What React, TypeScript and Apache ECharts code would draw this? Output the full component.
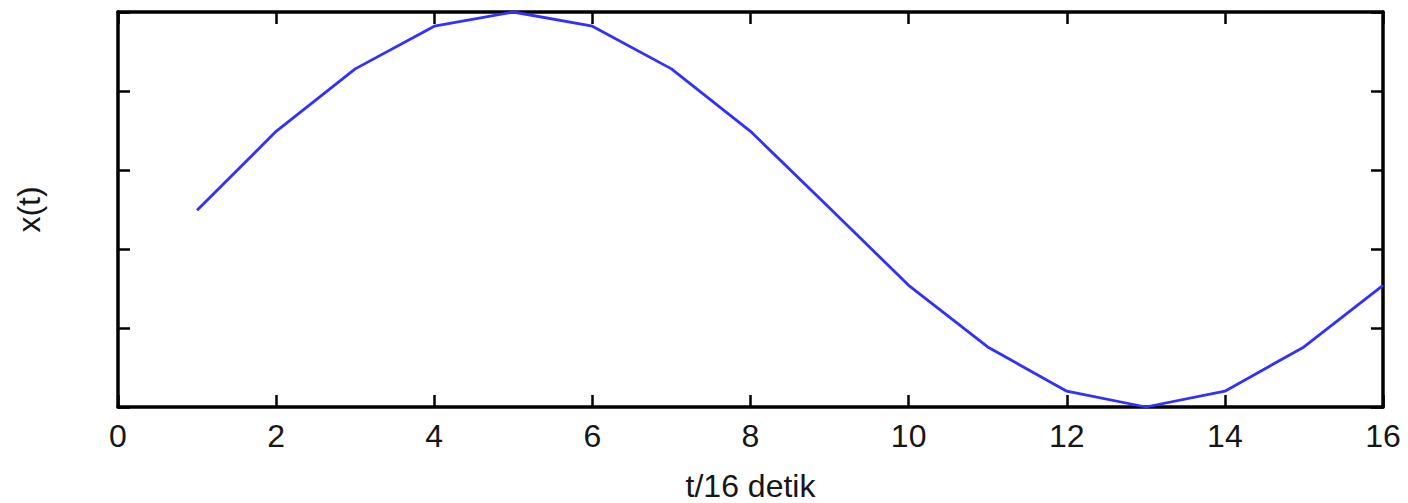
import React, { useEffect, useRef } from "react";
import * as echarts from "echarts";

const tValues = [1, 2, 3, 4, 5, 6, 7, 8, 9, 10, 11, 12, 13, 14, 15, 16];
const xValues = [2.49, 3.49, 4.28, 4.82, 5.0, 4.82, 4.28, 3.49, 2.52, 1.54, 0.76, 0.2, 0.0, 0.2, 0.76, 1.54];
const xTickMin = 0;
const xTickMax = 16;
const xTickStep = 2;
const yMin = 0;
const yMax = 5;
const yStep = 1;
const xAxisTitle = "t/16 detik";
const yAxisTitle = "x(t)";

const FONT = "Arial, 'Liberation Sans', sans-serif";
const TEXT = "#161616";

export default function App() {
  const ref = useRef<HTMLDivElement>(null);
  useEffect(() => {
    if (!ref.current) return;
    const chart = echarts.init(ref.current, undefined, { renderer: "svg" });
    const line = { lineStyle: { color: "#000", width: 3.5 } };
    const tick = { show: true, inside: true, length: 12, lineStyle: { color: "#000", width: 2.5 } };
    chart.setOption({
      animation: false,
      backgroundColor: "#fff",
      grid: { left: 118, right: 25, top: 12, bottom: 96, containLabel: false, outerBoundsMode: "none" },
      xAxis: [
        {
          type: "value",
          position: "bottom",
          min: xTickMin,
          max: xTickMax,
          interval: xTickStep,
          axisLine: { show: true, onZero: false, ...line },
          axisTick: tick,
          splitLine: { show: false },
          axisLabel: { color: TEXT, fontSize: 32, fontFamily: FONT, margin: 13 },
          name: xAxisTitle,
          nameLocation: "middle",
          nameGap: 63,
          nameTextStyle: { color: TEXT, fontSize: 32, lineHeight: 32, fontFamily: FONT },
        },
        {
          type: "value",
          position: "top",
          min: xTickMin,
          max: xTickMax,
          interval: xTickStep,
          axisLine: { show: true, onZero: false, ...line },
          axisTick: tick,
          splitLine: { show: false },
          axisLabel: { show: false },
        },
      ],
      yAxis: [
        {
          type: "value",
          position: "left",
          min: yMin,
          max: yMax,
          interval: yStep,
          axisLine: { show: true, onZero: false, ...line },
          axisTick: tick,
          splitLine: { show: false },
          axisLabel: { show: false },
          name: yAxisTitle,
          nameLocation: "middle",
          nameGap: 73,
          nameRotate: 90,
          nameTextStyle: { color: TEXT, fontSize: 32, fontFamily: FONT },
        },
        {
          type: "value",
          position: "right",
          min: yMin,
          max: yMax,
          interval: yStep,
          axisLine: { show: true, onZero: false, ...line },
          axisTick: tick,
          splitLine: { show: false },
          axisLabel: { show: false },
        },
      ],
      series: [
        {
          type: "line",
          xAxisIndex: 0,
          yAxisIndex: 0,
          data: tValues.map((t, i) => [t, xValues[i]]),
          showSymbol: false,
          symbol: "none",
          lineStyle: { color: "#3030ff", width: 2.8 },
          clip: false,
        },
      ],
    });
    return () => chart.dispose();
  }, []);
  return (
    <div
      ref={ref}
      style={{ position: "fixed", left: 0, top: 0, width: 1408, height: 503, background: "#fff" }}
    />
  );
}
